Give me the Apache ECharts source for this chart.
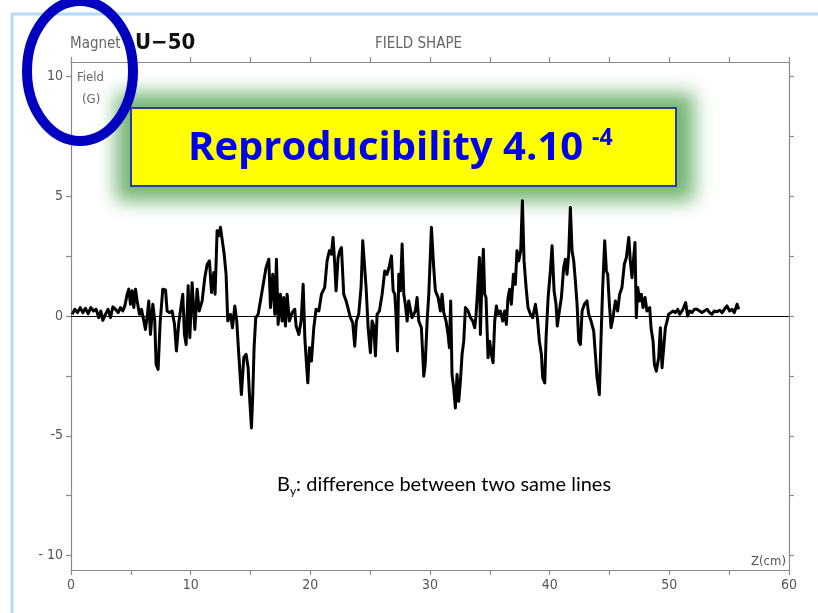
<!DOCTYPE html>
<html>
<head>
<meta charset="utf-8">
<script src="https://cdn.jsdelivr.net/npm/echarts@6/dist/echarts.min.js"></script>
<style>
  html, body { margin: 0; padding: 0; background: #fff; }
  #chart { width: 818px; height: 613px; }
</style>
</head>
<body>
<div id="chart"></div>
<script>
// Field difference By (G) along the magnet axis Z (cm)
const zPositions = [
  0.10, 0.32, 0.54, 0.77, 0.99, 1.21, 1.43, 1.66, 1.88, 2.10, 2.32, 2.49, 2.66, 2.88, 3.10, 3.30, 3.50, 3.72, 3.94, 4.13,
  4.33, 4.50, 4.69, 4.83, 4.97, 5.11, 5.25, 5.39, 5.53, 5.72, 5.89, 6.06, 6.22, 6.39, 6.50, 6.64, 6.84, 7.00, 7.11, 7.28,
  7.45, 7.67, 7.90, 8.03, 8.23, 8.45, 8.65, 8.81, 9.01, 9.18, 9.34, 9.48, 9.62, 9.79, 9.93, 10.12, 10.35, 10.54, 10.71, 10.96,
  11.18, 11.38, 11.57, 11.74, 11.93, 12.04, 12.21, 12.35, 12.49, 12.63, 12.80, 12.96, 13.10, 13.33, 13.49, 13.69, 13.85, 14.02, 14.24, 14.44,
  14.63, 14.80, 14.91, 15.08, 15.19, 15.30, 15.44, 15.64, 15.83, 16.11, 16.30, 16.53, 16.67, 16.86, 17.03, 17.17, 17.31, 17.50, 17.64, 17.78,
  17.92, 18.06, 18.25, 18.48, 18.70, 18.81, 19.04, 19.23, 19.40, 19.54, 19.68, 19.79, 19.93, 20.09, 20.29, 20.48, 20.71, 20.93, 21.20, 21.40,
  21.59, 21.76, 21.90, 22.04, 22.15, 22.32, 22.46, 22.60, 22.79, 22.99, 23.15, 23.35, 23.54, 23.71, 23.85, 24.04, 24.24, 24.38, 24.52, 24.66,
  24.83, 25.02, 25.16, 25.30, 25.44, 25.58, 25.77, 26.00, 26.22, 26.41, 26.61, 26.78, 26.92, 27.06, 27.17, 27.28, 27.39, 27.53, 27.67, 27.81,
  27.94, 28.09, 28.22, 28.50, 28.78, 28.92, 29.06, 29.28, 29.48, 29.60, 29.76, 29.90, 30.12, 30.31, 30.45, 30.68, 30.87, 31.01, 31.15, 31.34,
  31.51, 31.62, 31.73, 31.84, 31.98, 32.12, 32.26, 32.40, 32.54, 32.68, 32.82, 32.96, 33.18, 33.38, 33.57, 33.74, 33.85, 33.99, 34.13, 34.21,
  34.35, 34.46, 34.57, 34.68, 34.85, 34.99, 35.13, 35.27, 35.41, 35.55, 35.69, 35.88, 36.08, 36.24, 36.38, 36.52, 36.66, 36.80, 36.97, 37.13,
  37.27, 37.41, 37.58, 37.72, 37.86, 38.03, 38.19, 38.39, 38.58, 38.81, 38.97, 39.14, 39.31, 39.42, 39.59, 39.70, 39.87, 40.06, 40.20, 40.37,
  40.53, 40.64, 40.81, 40.98, 41.17, 41.31, 41.45, 41.59, 41.73, 41.87, 42.01, 42.15, 42.29, 42.43, 42.57, 42.71, 42.90, 43.12, 43.26, 43.46,
  43.68, 43.82, 43.96, 44.15, 44.32, 44.43, 44.60, 44.74, 44.85, 44.99, 45.13, 45.29, 45.49, 45.68, 45.85, 46.04, 46.24, 46.41, 46.61, 46.74,
  46.88, 47.02, 47.13, 47.24, 47.36, 47.52, 47.66, 47.80, 47.97, 48.13, 48.36, 48.47, 48.64, 48.75, 48.91, 49.11, 49.25, 49.39, 49.53, 49.67,
  49.81, 49.94, 50.14, 50.31, 50.50, 50.70, 50.86, 51.06, 51.20, 51.36, 51.53, 51.70, 51.89, 52.09, 52.31, 52.53, 52.73, 52.92, 53.15, 53.37,
  53.56, 53.76, 53.98, 54.21, 54.41, 54.60, 54.82, 55.04, 55.24, 55.43, 55.66, 55.80
];
const fieldDiff = [
  0.07, 0.28, 0.14, 0.35, 0.14, 0.32, 0.10, 0.35, 0.21, 0.28, -0.07, 0.21, -0.18, 0.07, 0.28, -0.07, 0.38, 0.28, 0.14, 0.35,
  0.21, 0.42, 0.90, 1.12, 0.49, 1.05, 0.35, 1.12, 0.63, 0.07, 0.28, -0.14, -0.56, 0.07, 0.63, -0.77, 0.49, -0.21, -2.02, -2.23,
  -0.28, 1.12, 1.09, 0.21, 0.14, 0.21, -0.35, -1.46, -0.28, 0.35, 0.91, -0.77, -1.19, 1.26, -0.91, 1.39, -0.56, 1.12, 0.21, 0.63,
  1.60, 2.16, 2.30, 0.98, 1.81, 0.91, 3.56, 3.35, 3.70, 3.63, 2.58, 1.74, -0.21, 0.07, -0.49, 0.42, -0.21, -1.60, -3.28, -1.74,
  -1.60, -2.16, -3.28, -4.67, -3.28, -1.32, -0.07, 0.07, 0.63, 1.46, 2.02, 2.37, 0.35, 1.74, 0.07, 2.37, -0.35, 0.91, -0.21, 0.77,
  -0.42, 0.91, -0.21, 0.14, 0.28, -0.42, -0.77, -0.21, 1.32, -0.91, -2.02, -2.79, -1.32, -1.88, -0.49, 0.28, 0.21, 0.91, 1.19, 2.30,
  2.72, 2.58, 3.28, 2.16, 1.05, 2.44, 2.72, 2.86, 0.91, 0.63, 0.70, -0.07, -0.28, -1.26, -0.21, 0.07, 1.19, 3.14, 3.14, 1.19,
  -0.49, -1.53, -0.21, -0.42, -1.67, 0.07, 0.21, 0.91, 1.88, 1.74, 2.09, 2.51, 1.05, 0.91, -0.07, -1.46, 1.74, 1.05, 3.00, 0.91,
  0.49, -0.21, 0.63, -0.07, 0.21, 0.77, -0.21, -0.49, -2.51, -2.02, -0.21, 0.91, 3.70, 2.02, 1.05, 0.77, 0.21, 0.91, 0.14, -0.21,
  -0.77, -1.32, 0.63, -2.44, -3.00, -3.84, -2.44, -3.56, -2.72, -1.60, -1.05, 0.35, 0.21, -0.07, -0.21, -0.49, 0.07, 1.19, 2.44, -0.77,
  1.74, 2.79, 0.91, 0.77, -1.74, -1.05, -1.60, -1.95, -0.21, 0.42, 0.07, 0.21, -0.21, 0.21, -0.35, 0.77, 1.12, 0.49, 1.74, 1.32,
  2.72, 2.30, 2.72, 4.81, 2.30, 1.19, 0.35, 0.07, -0.07, 0.49, -0.07, -1.05, -1.60, -2.58, -2.79, -0.91, 0.77, 1.88, 2.93, 1.05,
  0.49, -0.42, 0.21, 0.77, 2.02, 2.37, 1.74, 2.58, 4.53, 2.72, 2.30, 1.46, 0.49, -1.05, -1.19, 0.21, 0.49, 0.63, 0.07, -0.21,
  -0.63, -1.60, -2.58, -3.28, -0.49, 1.19, 3.14, 1.88, 1.74, 0.49, -0.49, -0.07, 0.63, 0.21, 0.91, 1.19, 2.16, 2.44, 3.28, 2.30,
  1.60, 2.44, 3.07, -0.07, 1.19, 0.63, 0.91, 0.35, 0.77, 0.21, 0.35, -0.49, -1.05, -2.02, -2.30, -1.74, -0.49, -2.16, -1.32, -0.49,
  -0.21, 0.07, 0.14, 0.21, 0.14, 0.28, 0.07, 0.21, 0.35, 0.56, 0.00, 0.21, 0.14, 0.28, 0.28, 0.21, 0.14, 0.21, 0.28, 0.14,
  0.07, 0.21, 0.18, 0.24, 0.14, 0.28, 0.42, 0.21, 0.28, 0.14, 0.49, 0.28
];

// Axis ticks and labels
const zTicks = [0, 5, 10, 15, 20, 25, 30, 35, 40, 45, 50, 55, 60];
const zLabels = [0, 10, 20, 30, 40, 50, 60];
const fieldTicks = [-10, -7.5, -5, -2.5, 0, 2.5, 5, 7.5, 10];
const fieldLabels = [-10, -5, 0, 5, 10];

const plotFont = "'Liberation Sans Narrow', 'DejaVu Sans Condensed', 'Liberation Sans', sans-serif";
const slideFont = "Lato, 'Open Sans', sans-serif";
const bannerFont = "'Open Sans', Lato, sans-serif";
const axisGrey = '#8a8a8a';
const textGrey = '#555';

const chart = echarts.init(document.getElementById('chart'), null, { renderer: 'canvas' });

const traceData = zPositions.map((z, i) => [z, fieldDiff[i]]);

const frameAxis = (pos, showLabels, ticks, labels, fmt) => ({
  type: 'value',
  position: pos,
  axisLine: { show: true, onZero: false, lineStyle: { color: axisGrey, width: 1.2 } },
  axisTick: { show: true, inside: false, length: 5, customValues: ticks, lineStyle: { color: axisGrey, width: 1.2 } },
  axisLabel: {
    show: showLabels,
    customValues: labels,
    color: textGrey,
    fontFamily: plotFont,
    fontSize: 14,
    margin: 8,
    formatter: fmt
  },
  splitLine: { show: false }
});

const yLabelFormat = v => (v === -10 ? '- 10' : String(v));

// Banner placement (pixels)
const banner = { x: 131, y: 108, w: 545, h: 78 };
const glowSpread = 15;
const glowShift = 3000;

const option = {
  backgroundColor: '#ffffff',
  animation: false,
  grid: { left: 71, right: 29, top: 62, bottom: 43, containLabel: false },
  xAxis: [
    Object.assign(frameAxis('bottom', true, zTicks, zLabels, v => String(v)), { min: 0, max: 60 }),
    Object.assign(frameAxis('top', false, zTicks, zLabels), { min: 0, max: 60 })
  ],
  yAxis: [
    Object.assign(frameAxis('left', true, fieldTicks, fieldLabels, yLabelFormat), { min: -10.6, max: 10.6 }),
    Object.assign(frameAxis('right', false, fieldTicks, fieldLabels), { min: -10.6, max: 10.6 })
  ],
  series: [{
    type: 'line',
    xAxisIndex: 0,
    yAxisIndex: 0,
    data: traceData,
    showSymbol: false,
    symbol: 'none',
    lineStyle: { color: '#000', width: 3, join: 'round' },
    z: 3,
    markLine: {
      silent: true,
      symbol: 'none',
      label: { show: false },
      lineStyle: { color: '#000', width: 1, type: 'solid' },
      data: [{ yAxis: 0 }],
      z: 2
    }
  }],
  graphic: [
    // slide frame
    { type: 'rect', z: 1, shape: { x: 12, y: 14, width: 900, height: 700 },
      style: { fill: 'none', stroke: '#b3d9fb', lineWidth: 3 } },
    // plot header texts
    { type: 'text', z: 5, x: 70, y: 44,
      style: { text: 'Magnet', fill: '#666', font: "15px " + plotFont, textVerticalAlign: 'middle' } },
    { type: 'text', z: 5, x: 135, y: 43,
      style: { text: 'U\u221250', fill: '#111', font: "bold 22px 'DejaVu Sans Condensed', 'Liberation Sans', sans-serif", textVerticalAlign: 'middle' } },
    { type: 'text', z: 5, x: 375, y: 44,
      style: { text: 'FIELD SHAPE', fill: '#666', font: "15px " + plotFont, textVerticalAlign: 'middle' } },
    { type: 'text', z: 5, x: 77, y: 78,
      style: { text: 'Field', fill: '#666', font: "13px " + plotFont, textVerticalAlign: 'middle' } },
    { type: 'text', z: 5, x: 82, y: 100,
      style: { text: '(G)', fill: '#666', font: "13px " + plotFont, textVerticalAlign: 'middle' } },
    { type: 'text', z: 5, x: 786, y: 562,
      style: { text: 'Z(cm)', fill: '#555', font: "13px " + plotFont, textAlign: 'right', textVerticalAlign: 'middle' } },
    // annotation in plot
    { type: 'text', z: 5, x: 277, y: 485,
      style: {
        text: '{n|B}{s|y}{n|: difference between two same lines}',
        textVerticalAlign: 'middle',
        rich: {
          n: { fontFamily: slideFont, fontSize: 20, color: '#111' },
          s: { fontFamily: slideFont, fontSize: 12, color: '#111', padding: [12, 0, 0, 0] }
        }
      } },
    // soft green glow: only the blurred shadow of an off-canvas rect is visible
    { type: 'rect', z: 1,
      shape: { x: banner.x - glowSpread - glowShift, y: banner.y - glowSpread,
               width: banner.w + 2 * glowSpread + 3, height: banner.h + 2 * glowSpread },
      style: { fill: '#78b878', shadowBlur: 18, shadowColor: '#74b574', shadowOffsetX: glowShift } },
    // banner
    { type: 'rect', z: 20, shape: { x: banner.x, y: banner.y, width: banner.w, height: banner.h },
      style: { fill: '#ffff00', stroke: '#2a3aa8', lineWidth: 2 } },
    { type: 'text', z: 21, x: 188, y: 149,
      style: { text: 'Reproducibility 4.10', fill: '#0000f0', font: "bold 40px " + bannerFont, textVerticalAlign: 'middle' } },
    { type: 'text', z: 21, x: 592, y: 138,
      style: { text: '-4', fill: '#0000f0', font: "bold 23px " + bannerFont, textVerticalAlign: 'middle' } },
    // highlight ellipse
    { type: 'ellipse', z: 30, shape: { cx: 80, cy: 71, rx: 53, ry: 70 },
      style: { fill: 'none', stroke: '#0000c0', lineWidth: 10 } }
  ]
};

chart.setOption(option);
</script>
</body>
</html>
